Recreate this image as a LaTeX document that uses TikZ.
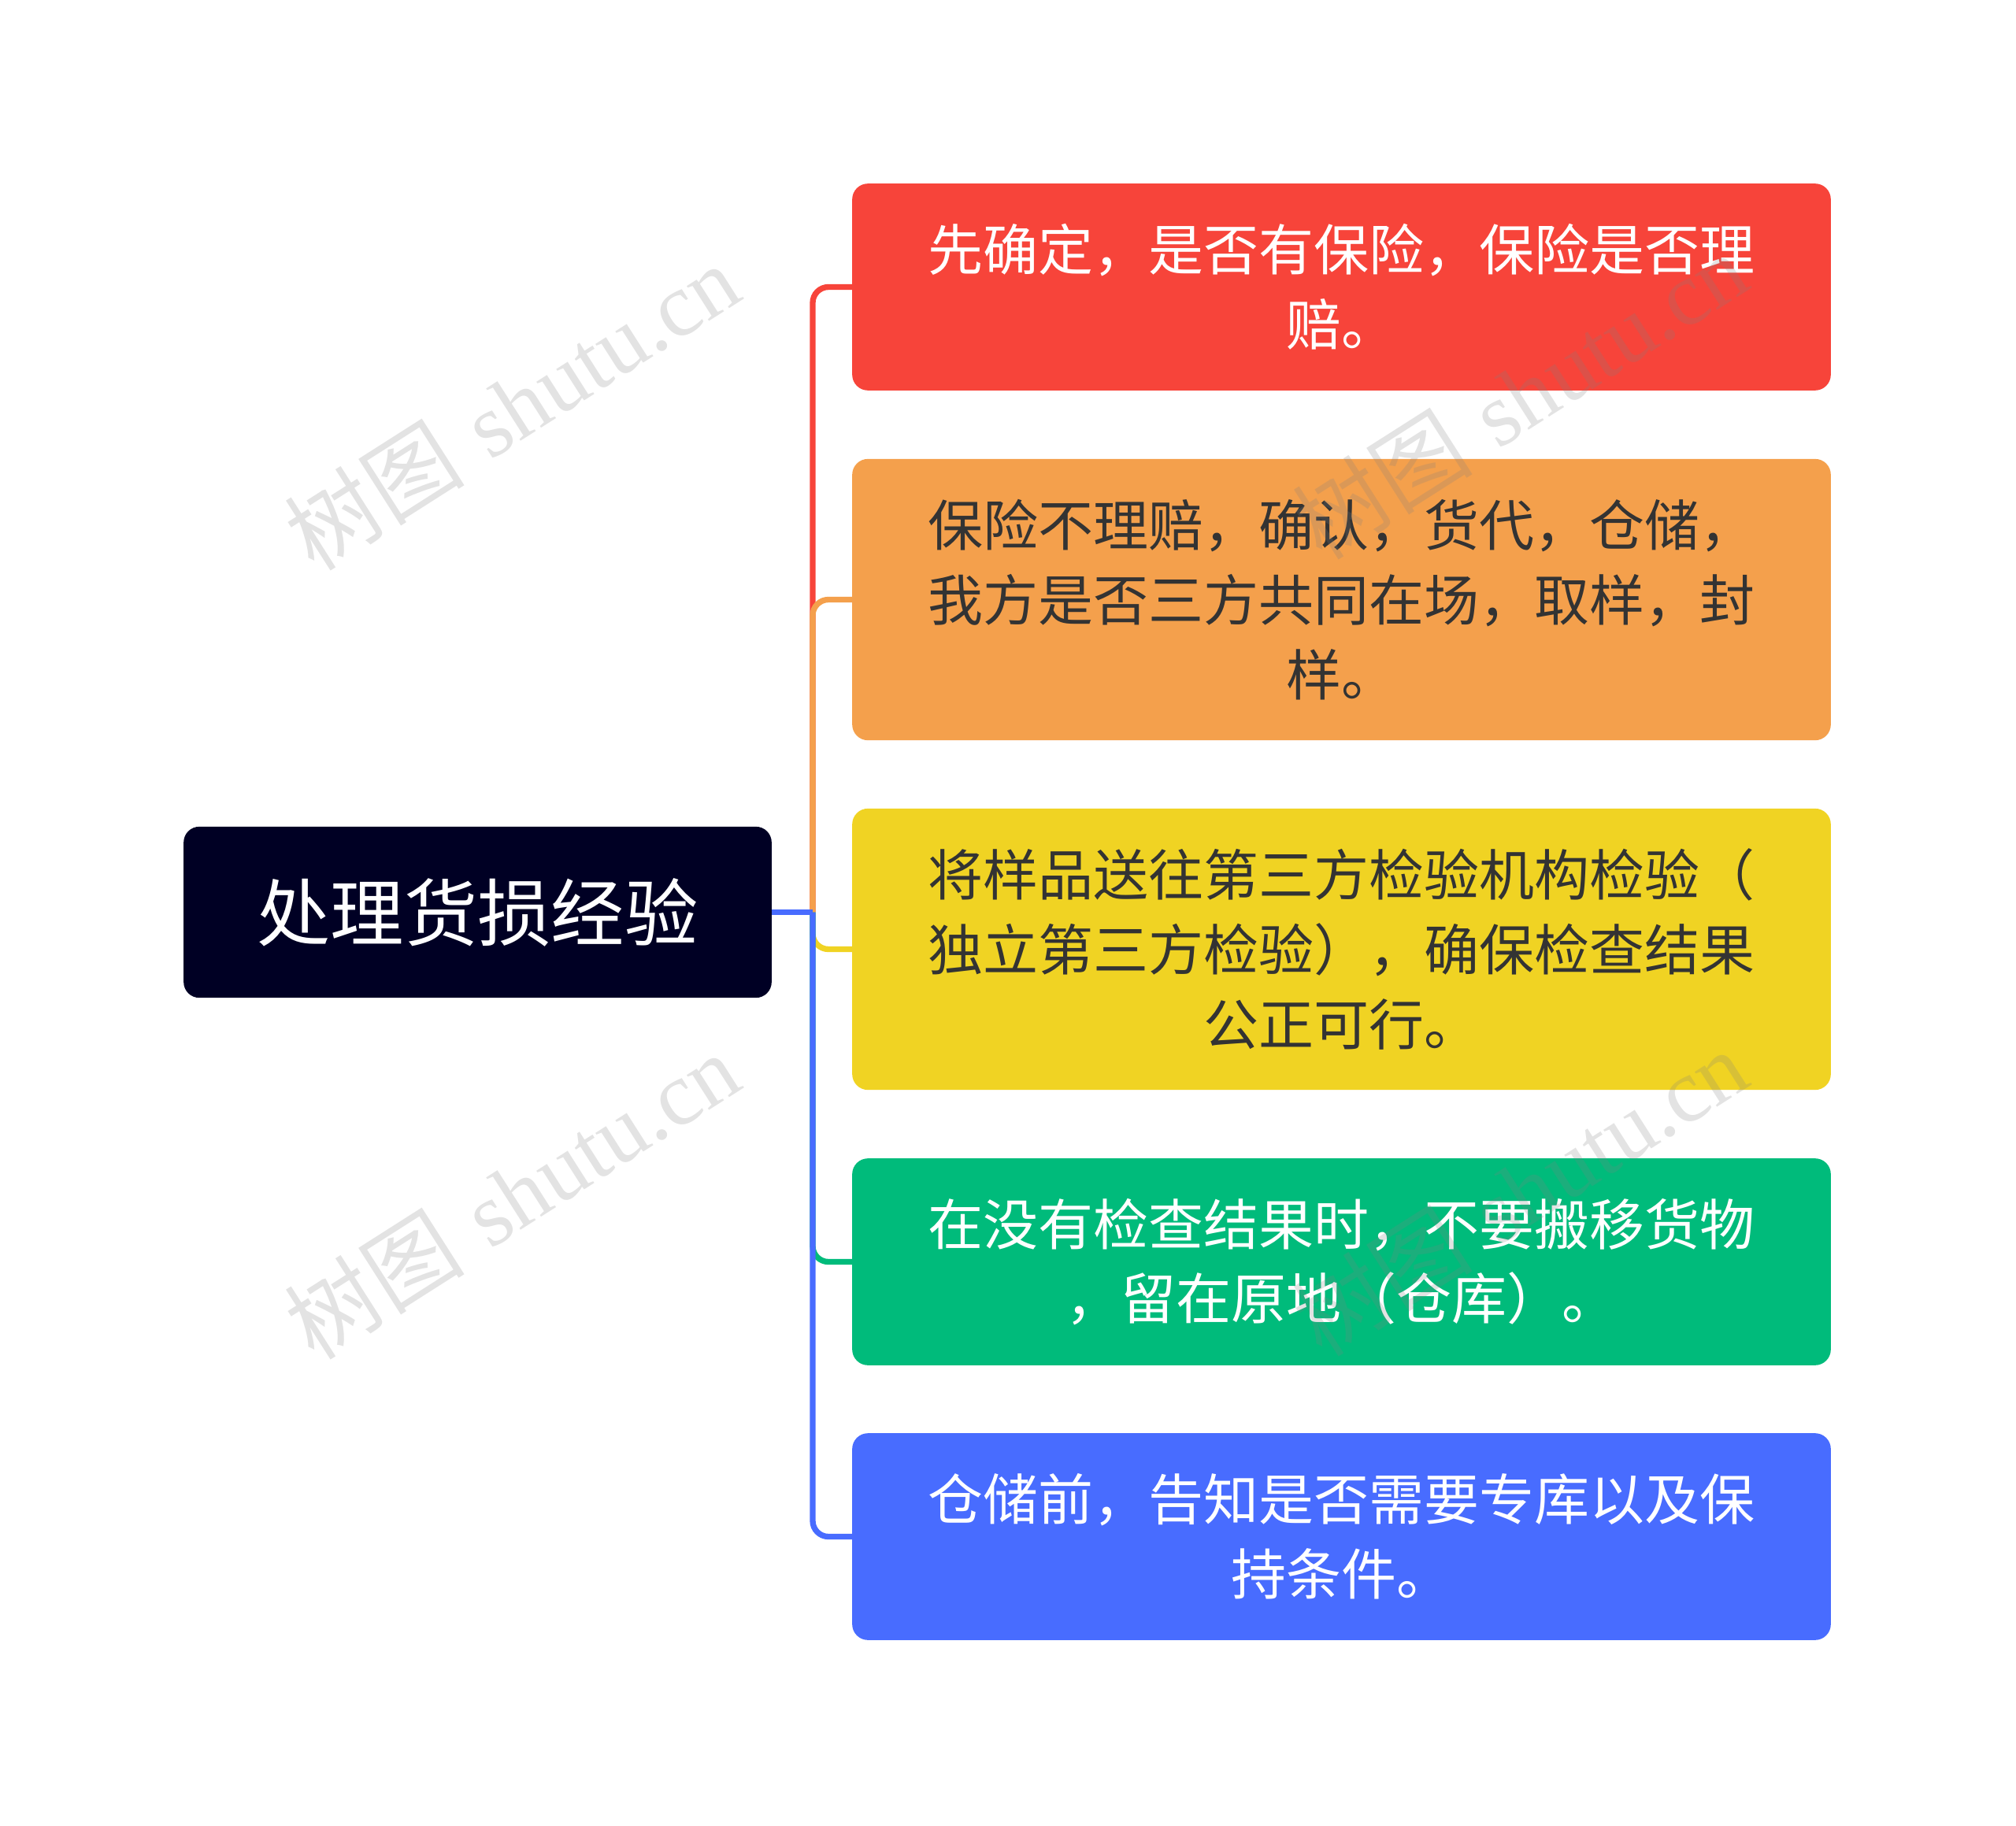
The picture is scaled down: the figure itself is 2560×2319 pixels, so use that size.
\documentclass[tikz,border=0pt]{standalone}
\usepackage{fontspec}
\usepackage{tikz}
\newfontfamily\cjk{Noto Sans CJK SC}
\newfontfamily\wmlatin{Liberation Serif}
\definecolor{rootnavy}{RGB}{0,0,36}
\definecolor{cred}{RGB}{247,68,58}
\definecolor{corange}{RGB}{244,160,76}
\definecolor{cyellow}{RGB}{240,211,35}
\definecolor{cgreen}{RGB}{0,187,123}
\definecolor{cblue}{RGB}{72,108,255}
\definecolor{darktext}{RGB}{51,51,51}

\begin{document}
\begin{tikzpicture}[x=0.75pt,y=0.75pt,yscale=-1,xscale=1,
  rootbox/.style={rectangle, rounded corners=15pt, fill=rootnavy, text=white,
    minimum width=560pt, minimum height=163pt, inner sep=0pt,
    font=\cjk\fontsize{70}{84}\selectfont},
  topic/.style={rectangle, rounded corners=15pt, minimum width=932pt,
    inner sep=0pt, align=center, font=\cjk\fontsize{52.5}{71}\selectfont},
  link/.style={line width=5.5pt, rounded corners=15pt},
  wmark/.style={rotate=32.5, anchor=center, text=gray, opacity=0.22,
    font=\fontsize{86}{100}\selectfont}]
\useasboundingbox (0,0) rectangle (2560,2319);

%Root
\node[rootbox] (root) at (606.5,1158.5) {处理货损经验};

%Topics
\node[topic, fill=cred, text=white, minimum height=197pt] (b1) at (1703.5,364.5)
  {先确定，是否有保险，保险是否理\\赔。};
\node[topic, fill=corange, text=darktext, minimum height=268pt] (b2) at (1703.5,761.5)
  {保险不理赔，确认，货代，仓储，\\我方是否三方共同在场，取样，封\\样。};
\node[topic, fill=cyellow, text=darktext, minimum height=268pt] (b3) at (1703.5,1205.5)
  {将样品送往第三方检验机构检验（\\独立第三方检验），确保检查结果\\公正可行。};
\node[topic, fill=cgreen, text=white, minimum height=197pt] (b4) at (1703.5,1602.5)
  {在没有检查结果时，不要搬移货物\\，留在原地（仓库）。};
\node[topic, fill=cblue, text=white, minimum height=197pt] (b5) at (1703.5,1951.5)
  {仓储前，告知是否需要专库以及保\\持条件。};

%Connectors
\coordinate (jn) at (1032,1158.5);
\draw[link, cred] (jn) |- (b1.west);
\draw[link, corange] (jn) |- (b2.west);
\draw[link, cyellow] (jn) |- (b3.west);
\draw[link, cgreen] (jn) |- (b4.west);
\draw[link, cblue] (jn) |- (b5.west);
\draw[link, cblue] (root.east) -- (jn);

%Watermarks
\node[wmark] (wm1) at (650,516) {{\cjk 树图} {\wmlatin shutu.cn}};
\node[wmark] (wm2) at (650,1518) {{\cjk 树图} {\wmlatin shutu.cn}};
\node[wmark] (wm3) at (1930,502) {{\cjk 树图} {\wmlatin shutu.cn}};
\node[wmark] (wm4) at (1930,1514) {{\cjk 树图} {\wmlatin shutu.cn}};

\end{tikzpicture}
\end{document}
